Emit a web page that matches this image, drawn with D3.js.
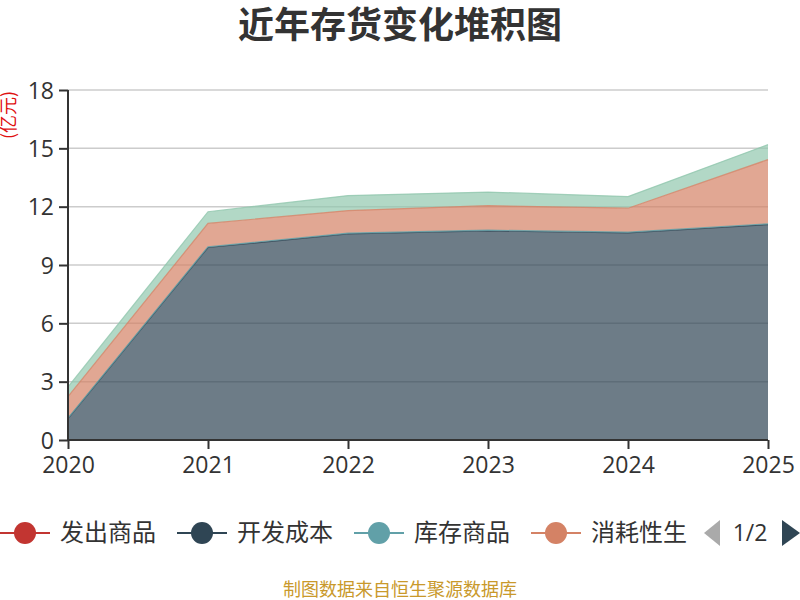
<!DOCTYPE html>
<html>
<head>
<meta charset="utf-8">
<script src="https://cdn.jsdelivr.net/npm/d3@7"></script>
<style>
  body { margin: 0; background: #fff; }
  svg { display: block; font-family: "Noto Sans CJK SC", "Noto Sans", sans-serif; }
</style>
</head>
<body>
<svg id="chart" width="800" height="600"></svg>
<script>
/****************************/
/*           Data           */
/****************************/
const years = ["2020", "2021", "2022", "2023", "2024", "2025"];
const seriesNames = ["发出商品", "开发成本", "库存商品", "消耗性生", "原材料"];
const seriesColors = ["#c23531", "#2f4554", "#61a0a8", "#d48265", "#91c7ae"];

const faChuShangPin = [0, 0, 0, 0, 0, 0];
const kaiFaChengBen = [1.1, 9.9, 10.6, 10.75, 10.65, 11.08];
const kuCunShangPin = [0.03, 0.04, 0.04, 0.04, 0.04, 0.04];
const xiaoHaoXing   = [1.1, 1.2, 1.16, 1.26, 1.23, 3.3];
const yuanCaiLiao   = [0.5, 0.6, 0.77, 0.7, 0.6, 0.77];

const yTicks = [0, 3, 6, 9, 12, 15, 18];
const legendCount = 4;
const pageLabel = "1/2";

const seriesValues = [faChuShangPin, kaiFaChengBen, kuCunShangPin, xiaoHaoXing, yuanCaiLiao];

/****************************/
/*          Layout          */
/****************************/
const width = 800;
const margin = { top: 90, right: 32, bottom: 160, left: 68 };
const innerWidth = width - margin.left - margin.right;
const innerHeight = 600 - margin.top - margin.bottom;

const svg = d3.select("#chart");

const rows = years.map((y, i) => {
  const row = { year: y };
  seriesNames.forEach((name, s) => { row[name] = seriesValues[s][i]; });
  return row;
});

const stacked = d3.stack().keys(seriesNames)(rows);

const xScale = d3.scalePoint()
  .domain(years)
  .range([0, innerWidth]);

const yScale = d3.scaleLinear()
  .domain([0, 18])
  .range([innerHeight, 0]);

/****************************/
/*          Title           */
/****************************/
svg.append("text")
  .attr("x", width / 2)
  .attr("y", 38)
  .attr("text-anchor", "middle")
  .attr("fill", "#333")
  .style("font-size", "36px")
  .style("font-weight", 700)
  .text("近年存货变化堆积图");

svg.append("text")
  .attr("transform", "translate(15, 115) rotate(-90)")
  .attr("text-anchor", "middle")
  .attr("fill", "#e01010")
  .style("font-size", "18px")
  .text("(亿元)");

/****************************/
/*       Inner chart        */
/****************************/
const innerChart = svg.append("g")
  .attr("transform", `translate(${margin.left}, ${margin.top})`);

innerChart.append("g")
  .attr("class", "grid")
  .selectAll("line")
  .data(yTicks.filter(t => t > 0))
  .join("line")
    .attr("x1", 0)
    .attr("x2", innerWidth)
    .attr("y1", d => yScale(d))
    .attr("y2", d => yScale(d))
    .attr("stroke", "#ccc")
    .attr("stroke-width", 1.5);

const area = d3.area()
  .x(d => xScale(d.data.year))
  .y0(d => yScale(d[0]))
  .y1(d => yScale(d[1]));

const line = d3.line()
  .x(d => xScale(d.data.year))
  .y(d => yScale(d[1]));

innerChart.selectAll(".layer")
  .data(stacked)
  .join("path")
    .attr("class", "layer")
    .attr("d", area)
    .attr("fill", (d, i) => seriesColors[i])
    .attr("fill-opacity", 0.7);

innerChart.selectAll(".layer-line")
  .data(stacked)
  .join("path")
    .attr("class", "layer-line")
    .attr("d", line)
    .attr("fill", "none")
    .attr("stroke", (d, i) => seriesColors[i])
    .attr("stroke-opacity", 0.8)
    .attr("stroke-width", 1.2);

/****************************/
/*           Axes           */
/****************************/
const xAxis = innerChart.append("g")
  .attr("transform", `translate(0, ${innerHeight})`)
  .call(d3.axisBottom(xScale).tickSize(9).tickPadding(8));

const yAxis = innerChart.append("g")
  .call(d3.axisLeft(yScale).tickValues(yTicks).tickSize(9).tickPadding(5));

[xAxis, yAxis].forEach(axis => {
  axis.select(".domain").attr("stroke", "#333").attr("stroke-width", 2);
  axis.selectAll(".tick line").attr("stroke", "#333").attr("stroke-width", 2);
  axis.selectAll(".tick text")
    .attr("fill", "#333")
    .style("font-family", "'Open Sans', 'Noto Sans', sans-serif")
    .style("font-size", "23px");
});

yAxis.selectAll(".tick text").attr("dy", "0.36em");
xAxis.select(".domain").attr("d", `M0,0H${innerWidth}`);
yAxis.select(".domain").attr("d", `M0,${innerHeight}V0`);

/****************************/
/*          Legend          */
/****************************/
const legend = svg.append("g")
  .attr("transform", "translate(0, 533)");

let cursor = 0;
seriesNames.slice(0, legendCount).forEach((name, i) => {

  const item = legend.append("g")
    .attr("transform", `translate(${cursor}, 0)`);

  item.append("line")
    .attr("x1", 0)
    .attr("x2", 50)
    .attr("stroke", seriesColors[i])
    .attr("stroke-width", 2);

  item.append("circle")
    .attr("cx", 25)
    .attr("r", 11)
    .attr("fill", seriesColors[i]);

  const label = item.append("text")
    .attr("x", 60)
    .attr("y", 0)
    .attr("dy", "0.35em")
    .attr("fill", "#333")
    .style("font-size", "24px")
    .text(name);

  cursor += 60 + label.node().getComputedTextLength() + 21;

});

legend.append("path")
  .attr("d", "M704,0L720,-13L720,13Z")
  .attr("fill", "#aaa");

legend.append("text")
  .attr("x", 750)
  .attr("dy", "0.35em")
  .attr("text-anchor", "middle")
  .attr("fill", "#333")
  .style("font-family", "'Open Sans', 'Noto Sans', sans-serif")
  .style("font-size", "23px")
  .text(pageLabel);

legend.append("path")
  .attr("d", "M782,-13L800,0L782,13Z")
  .attr("fill", "#2f4554");

/****************************/
/*          Footer          */
/****************************/
svg.append("text")
  .attr("x", width / 2)
  .attr("y", 596)
  .attr("text-anchor", "middle")
  .attr("fill", "#c9992b")
  .style("font-size", "18px")
  .text("制图数据来自恒生聚源数据库");
</script>
</body>
</html>
